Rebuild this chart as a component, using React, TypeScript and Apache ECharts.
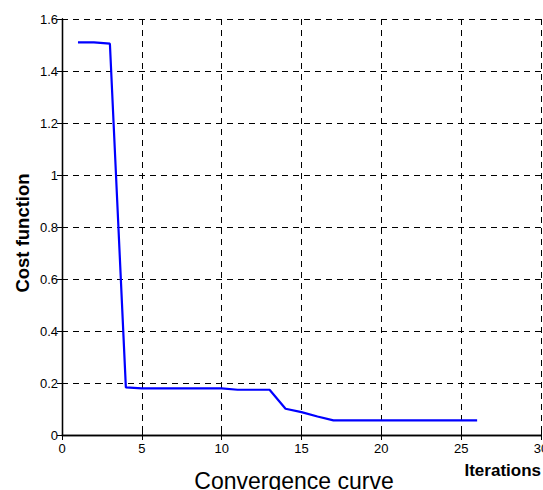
import React, { useEffect, useRef } from "react";
import * as echarts from "echarts";

const iterations: number[] = [
  1, 2, 3, 4, 5, 6, 7, 8, 9, 10, 11, 12, 13, 14, 15, 16, 17, 18, 19, 20, 21, 22, 23, 24, 25, 26,
];
const costValues: number[] = [
  1.51, 1.51, 1.505, 0.183, 0.179, 0.179, 0.179, 0.179, 0.179, 0.179, 0.174, 0.174, 0.174,
  0.101, 0.088, 0.071, 0.056, 0.056, 0.056, 0.056, 0.056, 0.056, 0.056, 0.056, 0.056, 0.056,
];
const xTicks = { min: 0, max: 30, interval: 5 };
const yTicks = { min: 0, max: 1.6, interval: 0.2 };
const titleText = "Convergence curve";
const xLabel = "Iterations";
const yLabel = "Cost function";

const FONT = "'Liberation Sans', Arial, Helvetica, sans-serif";

export default function App() {
  const ref = useRef<HTMLDivElement>(null);
  useEffect(() => {
    if (!ref.current) return;
    const chart = echarts.init(ref.current, undefined, { renderer: "svg" });
    const gridLine = { show: true, lineStyle: { color: "#000", width: 1, type: [6, 5] as any } };
    const axisLine = { show: true, lineStyle: { color: "#000", width: 1.3 } };
    const tick = { show: true, inside: true, length: 5, lineStyle: { color: "#000", width: 1 } };
    const label = { color: "#000", fontSize: 13, fontFamily: FONT };
    chart.setOption({
      animation: false,
      grid: {
        left: 62,
        right: 2,
        top: 19,
        bottom: 55,
        containLabel: false,
        outerBoundsMode: "none",
      },
      xAxis: [
        {
          type: "value",
          ...xTicks,
          axisLine,
          axisTick: tick,
          axisLabel: { ...label, margin: 7, formatter: (v: number) => String(v) },
          splitLine: gridLine,
        },
        {
          type: "value",
          position: "top",
          ...xTicks,
          axisLine,
          axisTick: tick,
          axisLabel: { show: false },
          splitLine: { show: false },
        },
      ],
      yAxis: [
        {
          type: "value",
          ...yTicks,
          axisLine,
          axisTick: tick,
          axisLabel: {
            ...label,
            margin: 4,
            formatter: (v: number) => String(Math.round(v * 10) / 10),
          },
          splitLine: gridLine,
        },
        {
          type: "value",
          position: "right",
          ...yTicks,
          axisLine,
          axisTick: tick,
          axisLabel: { show: false },
          splitLine: { show: false },
        },
      ],
      series: [
        {
          type: "line",
          xAxisIndex: 0,
          yAxisIndex: 0,
          data: iterations.map((it, i) => [it, costValues[i]]),
          showSymbol: false,
          symbol: "none",
          lineStyle: { color: "#0000ff", width: 2.2 },
        },
      ],
      graphic: [
        {
          type: "text",
          x: 294,
          y: 481,
          style: {
            text: titleText,
            fill: "#000",
            font: `23px ${FONT}`,
            align: "center",
            verticalAlign: "middle",
          },
        },
        {
          type: "text",
          x: 541,
          y: 470,
          style: {
            text: xLabel,
            fill: "#000",
            font: `bold 17px ${FONT}`,
            align: "right",
            verticalAlign: "middle",
          },
        },
        {
          type: "text",
          x: 22,
          y: 233,
          rotation: Math.PI / 2,
          style: {
            text: yLabel,
            fill: "#000",
            font: `bold 18.5px ${FONT}`,
            align: "center",
            verticalAlign: "middle",
          },
        },
      ],
    });
    return () => chart.dispose();
  }, []);
  return (
    <div
      ref={ref}
      style={{ position: "fixed", left: 0, top: 0, width: 543, height: 490, background: "#fff" }}
    />
  );
}
